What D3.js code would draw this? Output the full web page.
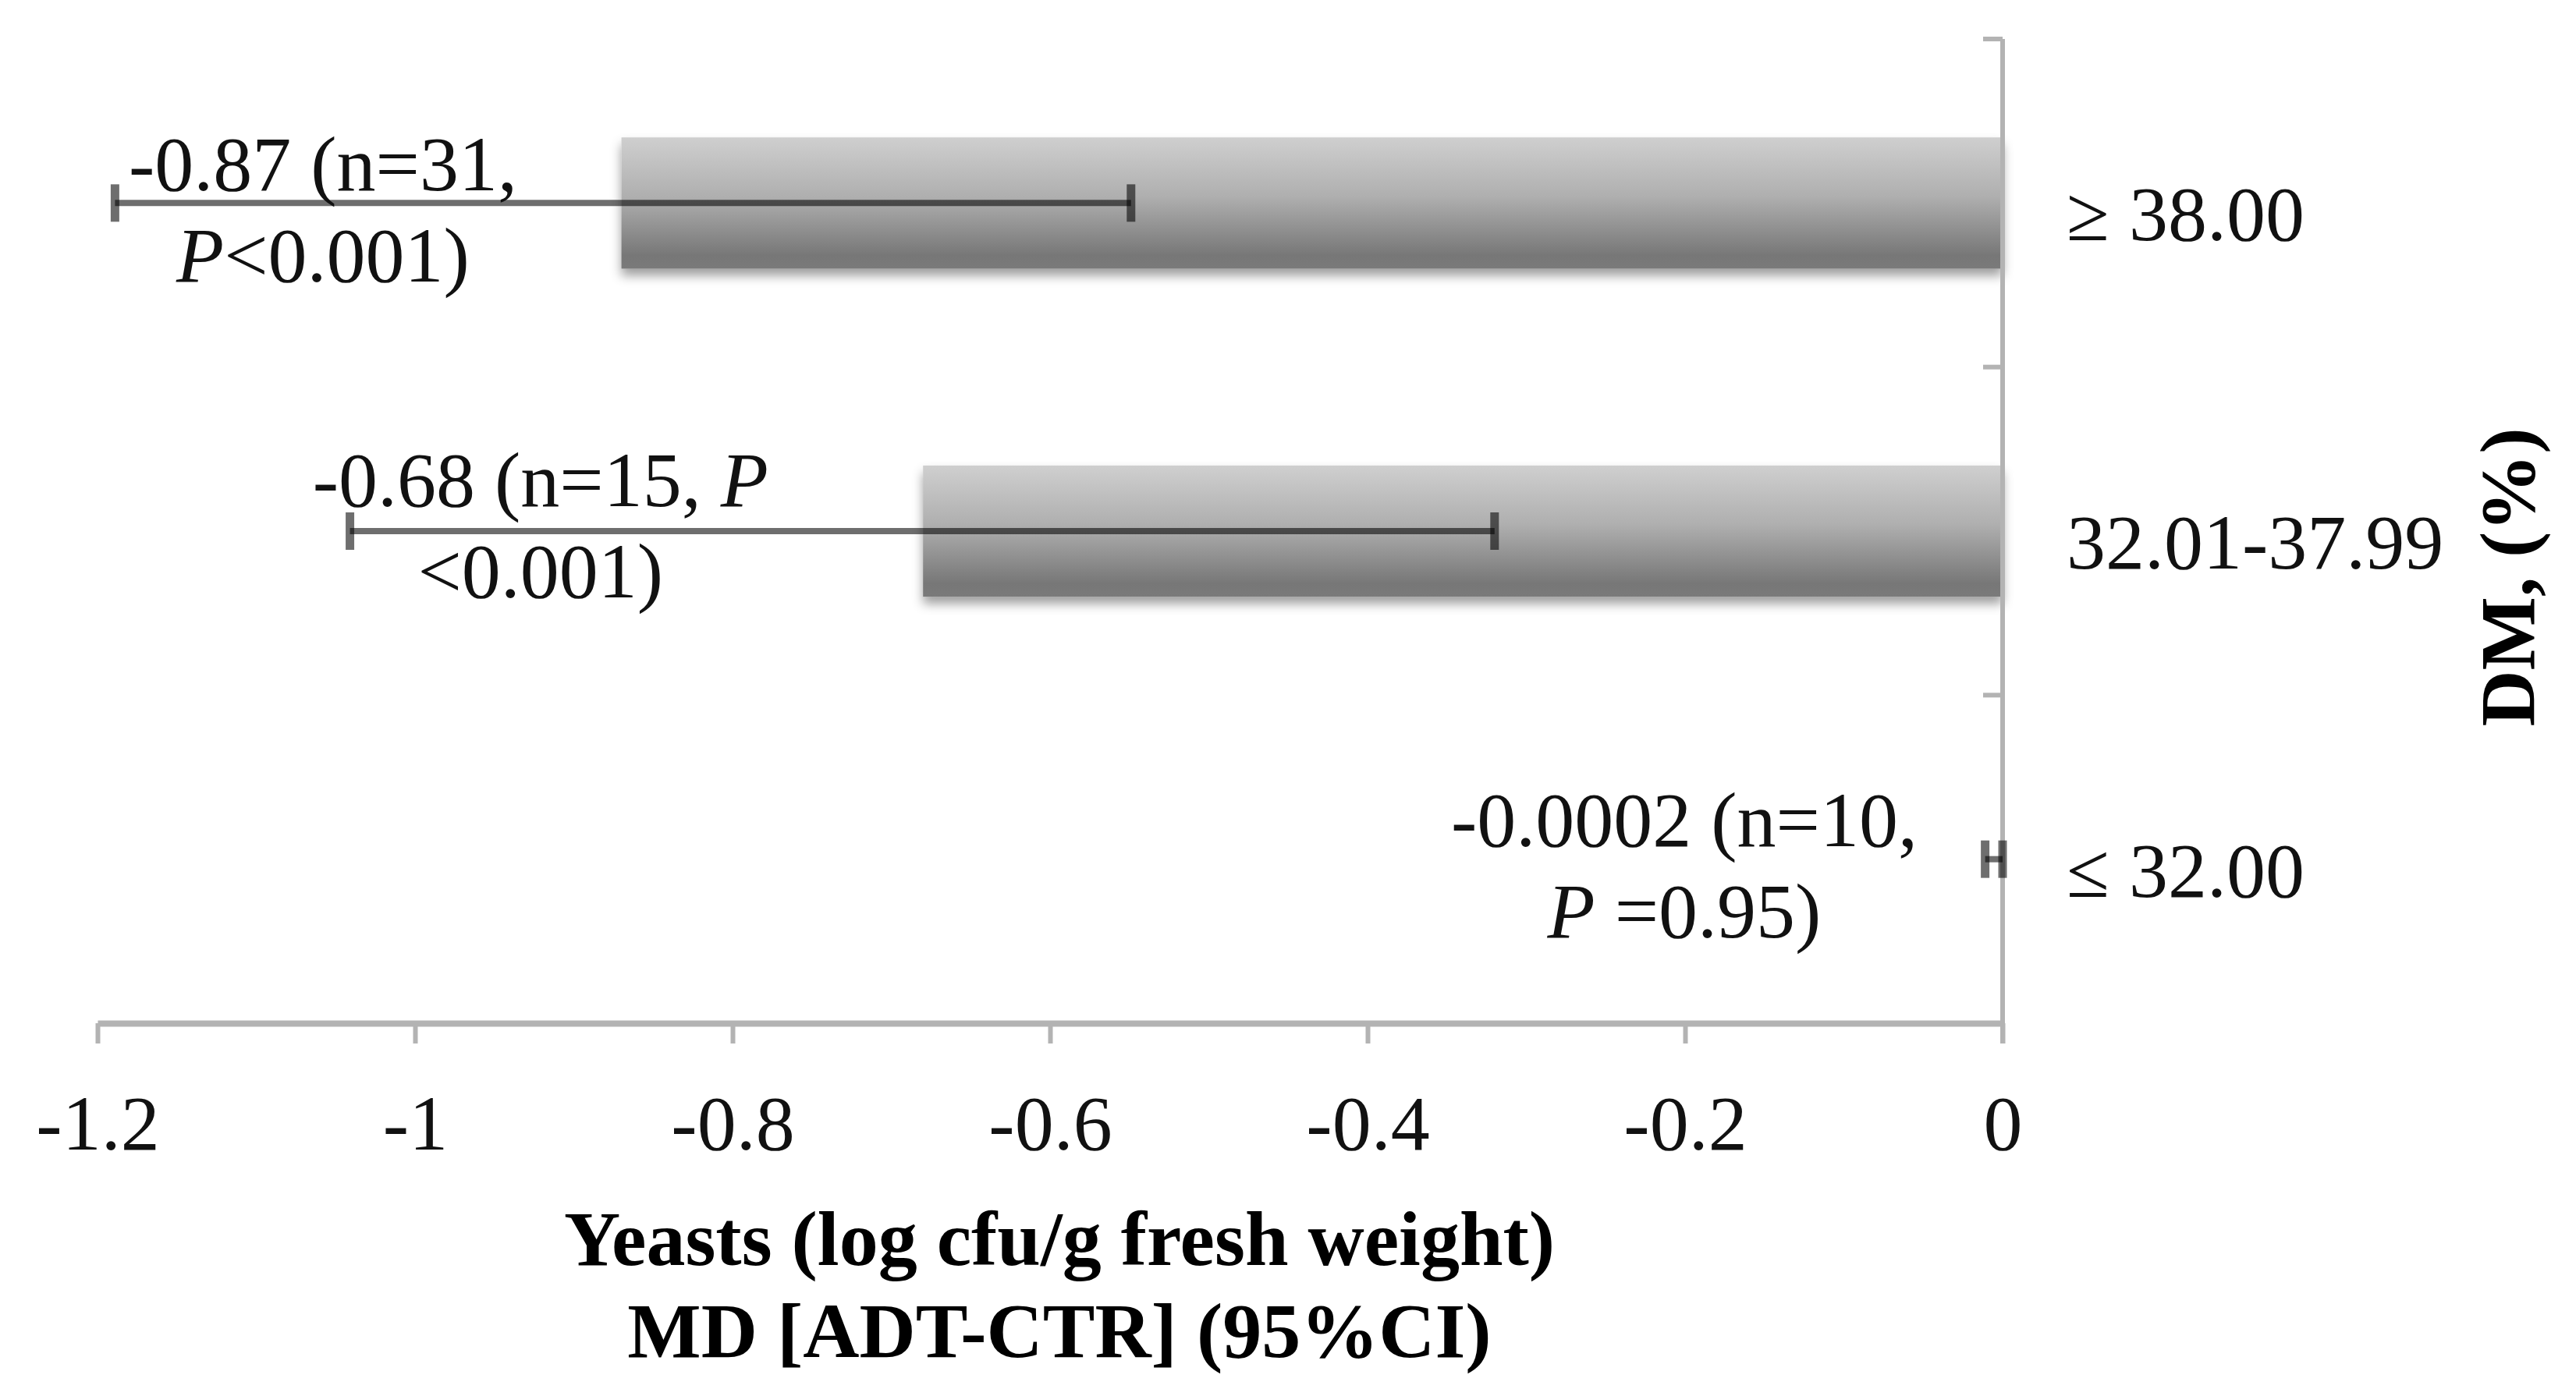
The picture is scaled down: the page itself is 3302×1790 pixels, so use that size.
<!DOCTYPE html>
<html>
<head>
<meta charset="utf-8">
<script src="https://cdn.jsdelivr.net/npm/d3@7.9.0/dist/d3.min.js"></script>
<style>
  html, body { margin: 0; padding: 0; background: #fff; }
  svg { display: block; font-family: "Liberation Serif", "Times New Roman", serif; }
</style>
</head>
<body>
<svg id="chart" width="3302" height="1790"></svg>
<script>
// data
const categories = ['\u2265 38.00', '32.01-37.99', '\u2264 32.00'];
const meanDiff = [-0.87, -0.68, -0.0002];
const ciLow = [-1.189, -1.041, -0.011];
const ciHigh = [-0.549, -0.320, 0];
const labelLine1 = ['-0.87 (n=31,', '-0.68 (n=15, P', '-0.0002 (n=10,'];
const labelLine2 = ['P<0.001)', '<0.001)', 'P =0.95)'];
const xTicks = [-1.2, -1, -0.8, -0.6, -0.4, -0.2, 0];
const xTickLabels = ['-1.2', '-1', '-0.8', '-0.6', '-0.4', '-0.2', '0'];

// label placement (value units along x, px offset from bar centre)
const labelAtX = [-1.058, -0.921, -0.2005];
const labelDy = [-16, -32, -17];

const svg = d3.select('#chart');
const fontSize = 100;

const x = d3.scaleLinear().domain([-1.2, 0]).range([125, 2567]);
const y = d3.scaleBand().domain(categories).range([50, 1312])
  .paddingInner(0.6).paddingOuter(0.3);

// gradient + shadow for the bars
const defs = svg.append('defs');
const grad = defs.append('linearGradient')
  .attr('id', 'barGrad').attr('x1', 0).attr('y1', 0).attr('x2', 0).attr('y2', 1);
grad.append('stop').attr('offset', '0%').attr('stop-color', '#cfcfcf');
grad.append('stop').attr('offset', '45%').attr('stop-color', '#afafaf');
grad.append('stop').attr('offset', '90%').attr('stop-color', '#777777');
grad.append('stop').attr('offset', '100%').attr('stop-color', '#7a7a7a');

const shadow = defs.append('filter').attr('id', 'shadow')
  .attr('x', '-5%').attr('y', '-20%').attr('width', '110%').attr('height', '160%');
shadow.append('feDropShadow')
  .attr('dx', 0).attr('dy', 9).attr('stdDeviation', 7)
  .attr('flood-color', '#000').attr('flood-opacity', 0.38);

// bars
svg.append('g')
  .selectAll('rect')
  .data(categories)
  .join('rect')
  .attr('x', (d, i) => x(meanDiff[i]))
  .attr('y', d => y(d))
  .attr('width', (d, i) => x(0) - x(meanDiff[i]))
  .attr('height', y.bandwidth())
  .attr('fill', 'url(#barGrad)')
  .attr('filter', 'url(#shadow)');

// x axis
const xAxis = d3.axisBottom(x)
  .tickValues(xTicks)
  .tickFormat((d, i) => xTickLabels[i])
  .tickSize(26)
  .tickSizeOuter(0)
  .tickPadding(65);

const gx = svg.append('g')
  .attr('transform', `translate(0,${y.range()[1]})`)
  .call(xAxis);
gx.select('.domain').attr('stroke', '#b3b3b3').attr('stroke-width', 8);
gx.selectAll('.tick line').attr('stroke', '#b3b3b3').attr('stroke-width', 6);
gx.selectAll('.tick text')
  .attr('fill', '#111')
  .style('font-size', fontSize + 'px')
  .style('font-family', '"Liberation Serif", serif');

// y axis line with category boundary ticks
const gy = svg.append('g');
const [y0, y1] = y.range();
gy.append('line')
  .attr('x1', x(0)).attr('x2', x(0))
  .attr('y1', y0).attr('y2', y1 + 26)
  .attr('stroke', '#b3b3b3').attr('stroke-width', 6);
const boundaries = categories.map(c => y(c) - y.step() * y.paddingOuter()).concat([y1]);
gy.selectAll('line.tick')
  .data(boundaries.slice(0, 3))
  .join('line')
  .attr('class', 'tick')
  .attr('x1', x(0) - 25).attr('x2', x(0))
  .attr('y1', d => d).attr('y2', d => d)
  .attr('stroke', '#b3b3b3').attr('stroke-width', 6);

// category labels on the right
gy.selectAll('text')
  .data(categories)
  .join('text')
  .attr('x', x(0) + 82)
  .attr('y', d => y(d) + y.bandwidth() / 2 + 48)
  .attr('fill', '#111')
  .style('font-size', fontSize + 'px')
  .text(d => d);

// error bars
const eb = svg.append('g')
  .attr('stroke', '#000')
  .attr('stroke-opacity', 0.57)
  .attr('fill', 'none');
categories.forEach((c, i) => {
  const cy = y(c) + y.bandwidth() / 2;
  const path = d3.path();
  path.moveTo(x(ciLow[i]), cy);
  path.lineTo(x(ciHigh[i]), cy);
  eb.append('path').attr('d', path.toString()).attr('stroke-width', 8);
  [ciLow[i], ciHigh[i]].forEach(v => {
    eb.append('line')
      .attr('x1', x(v)).attr('x2', x(v))
      .attr('y1', cy - 24).attr('y2', cy + 24)
      .attr('stroke-width', 11);
  });
});

// data labels, italic P
function addRich(sel, str) {
  str.split(/(P)/).filter(s => s.length).forEach(s => {
    sel.append('tspan')
      .style('font-style', s === 'P' ? 'italic' : 'normal')
      .text(s);
  });
}
const lab = svg.append('g')
  .attr('fill', '#111')
  .attr('text-anchor', 'middle')
  .style('font-size', fontSize + 'px');
categories.forEach((c, i) => {
  const cy = y(c) + y.bandwidth() / 2 + labelDy[i];
  addRich(lab.append('text').attr('x', x(labelAtX[i])).attr('y', cy), labelLine1[i]);
  addRich(lab.append('text').attr('x', x(labelAtX[i])).attr('y', cy + 117), labelLine2[i]);
});

// axis titles
const midX = (x.range()[0] + x.range()[1]) / 2 + 12;
svg.append('text')
  .attr('x', midX).attr('y', 1622)
  .attr('text-anchor', 'middle')
  .attr('fill', '#000')
  .style('font-size', fontSize + 'px')
  .style('font-weight', 'bold')
  .text('Yeasts (log cfu/g fresh weight)');
svg.append('text')
  .attr('x', midX).attr('y', 1740)
  .attr('text-anchor', 'middle')
  .attr('fill', '#000')
  .style('font-size', fontSize + 'px')
  .style('font-weight', 'bold')
  .text('MD [ADT-CTR] (95%CI)');

svg.append('text')
  .attr('transform', 'translate(3248,740) rotate(-90)')
  .attr('text-anchor', 'middle')
  .attr('fill', '#000')
  .style('font-size', fontSize + 'px')
  .style('font-weight', 'bold')
  .text('DM, (%)');
</script>
</body>
</html>
